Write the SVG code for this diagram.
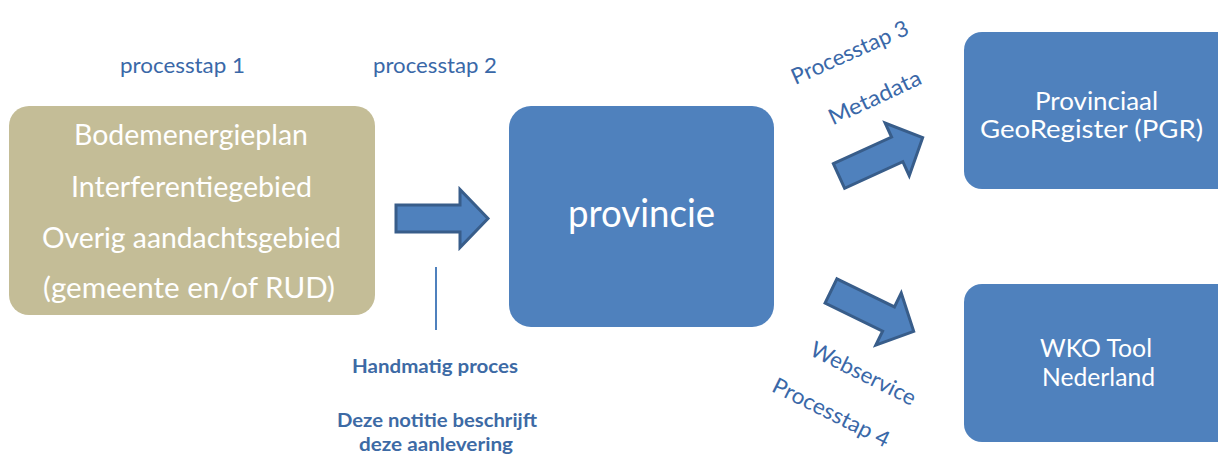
<svg xmlns="http://www.w3.org/2000/svg" width="1218" height="454" viewBox="0 0 1218 454">
<style>
.tan{fill:#c4bd97}
.blue{fill:#4f81bd}
.wt{fill:#ffffff;font-family:Lato,"Liberation Sans",sans-serif;text-anchor:middle}
.lb{fill:#3a68a8;font-family:Lato,"Liberation Sans",sans-serif;text-anchor:middle}
.bd{fill:#3d6aa5;font-family:Lato,"Liberation Sans",sans-serif;font-weight:bold;text-anchor:middle;font-size:19px}
.arrow{fill:#4f81bd;stroke:#385d8a;stroke-width:3;stroke-linejoin:miter}
</style>
<defs>
<path id="arr" d="M0,-13.5 L64,-13.5 L64,-29 L92,0 L64,29 L64,13.5 L0,13.5 Z"/>
</defs>
<rect width="1218" height="454" fill="#ffffff"/>

<g id="labels">
<text class="lb" x="182.5" y="73" font-size="22" textLength="125" lengthAdjust="spacingAndGlyphs">processtap 1</text>
<text class="lb" x="435" y="73" font-size="22" textLength="124" lengthAdjust="spacingAndGlyphs">processtap 2</text>
<g transform="translate(850,53) rotate(-24)"><text class="lb" x="0" y="7" font-size="22" textLength="126" lengthAdjust="spacingAndGlyphs">Processtap 3</text></g>
<g transform="translate(875,98) rotate(-25)"><text class="lb" x="0" y="7" font-size="22" textLength="100" lengthAdjust="spacingAndGlyphs">Metadata</text></g>
<g transform="translate(863,374) rotate(26.5)"><text class="lb" x="0" y="7" font-size="22" textLength="115" lengthAdjust="spacingAndGlyphs">Webservice</text></g>
<g transform="translate(831,413) rotate(26.5)"><text class="lb" x="0" y="7" font-size="22" textLength="128" lengthAdjust="spacingAndGlyphs">Processtap 4</text></g>
<text class="bd" x="435" y="373" textLength="166" lengthAdjust="spacingAndGlyphs">Handmatig proces</text>
<text class="bd" x="437" y="427" textLength="200" lengthAdjust="spacingAndGlyphs">Deze notitie beschrijft</text>
<text class="bd" x="436" y="451" textLength="154" lengthAdjust="spacingAndGlyphs">deze aanlevering</text>
</g>

<g id="gemeente">
<rect class="tan" x="9" y="106" width="366" height="209" rx="20"/>
<text class="wt" x="191" y="145" font-size="29" textLength="234" lengthAdjust="spacingAndGlyphs">Bodemenergieplan</text>
<text class="wt" x="191.5" y="197" font-size="29" textLength="241" lengthAdjust="spacingAndGlyphs">Interferentiegebied</text>
<text class="wt" x="191.5" y="248" font-size="29" textLength="299" lengthAdjust="spacingAndGlyphs">Overig aandachtsgebied</text>
<text class="wt" x="189" y="298" font-size="29" textLength="292" lengthAdjust="spacingAndGlyphs">(gemeente en/of RUD)</text>
</g>

<g id="provincie">
<rect class="blue" x="509" y="106" width="265" height="221" rx="22"/>
<text class="wt" x="641.5" y="227" font-size="39" textLength="147" lengthAdjust="spacingAndGlyphs">provincie</text>
</g>

<g id="pgr">
<rect class="blue" x="964" y="32" width="280" height="157" rx="18"/>
<text class="wt" x="1096.5" y="110" font-size="25" textLength="123" lengthAdjust="spacingAndGlyphs">Provinciaal</text>
<text class="wt" x="1091.5" y="138" font-size="25" textLength="223" lengthAdjust="spacingAndGlyphs">GeoRegister (PGR)</text>
</g>

<g id="wko">
<rect class="blue" x="964" y="284" width="280" height="158" rx="18"/>
<text class="wt" x="1096" y="357" font-size="25" textLength="112" lengthAdjust="spacingAndGlyphs">WKO Tool</text>
<text class="wt" x="1098.5" y="386" font-size="25" textLength="113" lengthAdjust="spacingAndGlyphs">Nederland</text>
</g>

<g id="connectors">
<use href="#arr" class="arrow" transform="translate(396,218.5)"/>
<use href="#arr" class="arrow" transform="translate(839,176) rotate(-24.6)"/>
<use href="#arr" class="arrow" transform="translate(831,291) rotate(26)"/>
<line x1="436" y1="267" x2="436" y2="330" stroke="#4f81bd" stroke-width="2"/>
</g>
</svg>
